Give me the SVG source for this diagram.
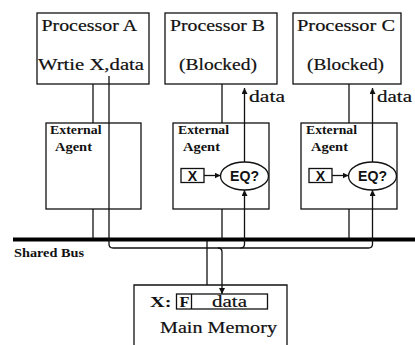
<svg xmlns="http://www.w3.org/2000/svg" width="415" height="345" viewBox="0 0 415 345">
  <style>
    .box { fill: #fff; stroke: #111; stroke-width: 1.3; }
    .frame { fill: none; stroke: #111; stroke-width: 1.3; }
    .ln { fill: none; stroke: #111; stroke-width: 1.3; }
    .bus { fill: none; stroke: #000; stroke-width: 4; }
    .serif { font-family: "Liberation Serif", "Times New Roman", serif; fill: #111; }
    .title { font-size: 17px; stroke: #111; stroke-width: 0.2; }
    .agent { font-size: 12px; font-weight: bold; }
    .sans { font-family: "Liberation Sans", Arial, sans-serif; font-weight: bold; fill: #111; }
  </style>
  <defs>
    <marker id="arrow" viewBox="0 0 8 8" refX="8" refY="4" markerWidth="6" markerHeight="6" markerUnits="userSpaceOnUse" orient="auto">
      <path d="M0,0 L8,4 L0,8 z" fill="#111"/>
    </marker>
  </defs>

  <!-- shared bus -->
  <g id="bus">
    <line class="bus" x1="13" y1="239.5" x2="415" y2="239.5"/>
    <text class="serif" x="14" y="257" font-size="12" font-weight="bold" textLength="70" lengthAdjust="spacingAndGlyphs">Shared Bus</text>
  </g>

  <!-- processors -->
  <g id="processor-a">
    <rect class="box" x="37" y="13" width="112" height="71"/>
    <text class="serif title" x="41.5" y="31" textLength="95.5" lengthAdjust="spacingAndGlyphs">Processor A</text>
    <text class="serif title" x="38" y="70" textLength="106" lengthAdjust="spacingAndGlyphs">Wrtie X,data</text>
  </g>
  <g id="processor-b">
    <rect class="box" x="165" y="13" width="112" height="71"/>
    <text class="serif title" x="170" y="31" textLength="95" lengthAdjust="spacingAndGlyphs">Processor B</text>
    <text class="serif title" x="179" y="70" textLength="78" lengthAdjust="spacingAndGlyphs">(Blocked)</text>
  </g>
  <g id="processor-c">
    <rect class="box" x="293" y="13" width="108" height="71"/>
    <text class="serif title" x="297" y="31" textLength="98" lengthAdjust="spacingAndGlyphs">Processor C</text>
    <text class="serif title" x="307" y="70" textLength="77" lengthAdjust="spacingAndGlyphs">(Blocked)</text>
  </g>

  <!-- data outputs -->
  <g id="data-b">
    <text class="serif title" x="249" y="102" font-size="16" textLength="36" lengthAdjust="spacingAndGlyphs">data</text>
  </g>
  <g id="data-c">
    <text class="serif title" x="377" y="102" font-size="16" textLength="35" lengthAdjust="spacingAndGlyphs">data</text>
  </g>

  <!-- external agents -->
  <g id="agent-a">
    <rect class="frame" x="46" y="123" width="95" height="86"/>
    <text class="serif agent" x="50" y="134" textLength="51.5" lengthAdjust="spacingAndGlyphs">External</text>
    <text class="serif agent" x="55" y="151" textLength="37" lengthAdjust="spacingAndGlyphs">Agent</text>
  </g>
  <g id="agent-b">
    <rect class="frame" x="173" y="123" width="96" height="86"/>
    <text class="serif agent" x="178" y="134" textLength="51" lengthAdjust="spacingAndGlyphs">External</text>
    <text class="serif agent" x="183" y="151" textLength="37" lengthAdjust="spacingAndGlyphs">Agent</text>
    <rect class="box" x="181" y="168.5" width="23" height="14"/>
    <text class="sans" x="192.5" y="180.5" font-size="14" text-anchor="middle">X</text>
    <ellipse class="box" cx="244.5" cy="176" rx="24" ry="14"/>
    <text class="sans" x="230" y="181" font-size="14" textLength="29" lengthAdjust="spacingAndGlyphs">EQ?</text>
  </g>
  <g id="agent-c">
    <rect class="frame" x="301" y="123" width="96" height="86"/>
    <text class="serif agent" x="306" y="134" textLength="51" lengthAdjust="spacingAndGlyphs">External</text>
    <text class="serif agent" x="311" y="151" textLength="37" lengthAdjust="spacingAndGlyphs">Agent</text>
    <rect class="box" x="309" y="168.5" width="23" height="14"/>
    <text class="sans" x="320.5" y="180.5" font-size="14" text-anchor="middle">X</text>
    <ellipse class="box" cx="372.5" cy="176" rx="24" ry="14"/>
    <text class="sans" x="358" y="181" font-size="14" textLength="29" lengthAdjust="spacingAndGlyphs">EQ?</text>
  </g>

  <!-- main memory -->
  <g id="main-memory">
    <path class="ln" d="M134,346 V285 H287 V346"/>
    <text class="serif" x="150" y="307" font-size="15" font-weight="bold" textLength="21.5" lengthAdjust="spacingAndGlyphs">X:</text>
    <rect class="frame" x="176.5" y="294" width="91" height="15"/>
    <line class="ln" x1="191.5" y1="294" x2="191.5" y2="309"/>
    <text class="serif" x="179.5" y="307" font-size="15" font-weight="bold" textLength="10" lengthAdjust="spacingAndGlyphs">F</text>
    <text class="serif title" x="212" y="307" font-size="16" textLength="35" lengthAdjust="spacingAndGlyphs">data</text>
    <text class="serif title" x="160" y="333" font-size="18" textLength="117" lengthAdjust="spacingAndGlyphs">Main Memory</text>
  </g>

  <!-- connectors -->
  <g id="connectors">
    <!-- processor A -->
    <line class="ln" x1="93" y1="84" x2="93" y2="123"/>
    <line class="ln" x1="93" y1="209" x2="93" y2="239"/>
    <path class="ln" d="M109,76 V244 Q109,248 113,248 H368.5 Q372.5,248 372.5,244 V190" marker-end="url(#arrow)"/>
    <!-- processor B -->
    <line class="ln" x1="222" y1="84" x2="222" y2="123"/>
    <line class="ln" x1="222" y1="209" x2="222" y2="239"/>
    <path class="ln" d="M240.5,248 Q244.5,248 244.5,244 V190" marker-end="url(#arrow)"/>
    <line class="ln" x1="244.5" y1="162" x2="244.5" y2="88" marker-end="url(#arrow)"/>
    <line class="ln" x1="204" y1="175.5" x2="220.5" y2="175.5" marker-end="url(#arrow)"/>
    <!-- processor C -->
    <line class="ln" x1="349" y1="84" x2="349" y2="123"/>
    <line class="ln" x1="349" y1="209" x2="349" y2="239"/>
    <line class="ln" x1="372.5" y1="162" x2="372.5" y2="88" marker-end="url(#arrow)"/>
    <line class="ln" x1="332" y1="175.5" x2="348.5" y2="175.5" marker-end="url(#arrow)"/>
    <!-- main memory -->
    <line class="ln" x1="207" y1="241" x2="207" y2="285"/>
    <path class="ln" d="M218,248 Q222,248 222,252 V294" marker-end="url(#arrow)"/>
  </g>
</svg>
